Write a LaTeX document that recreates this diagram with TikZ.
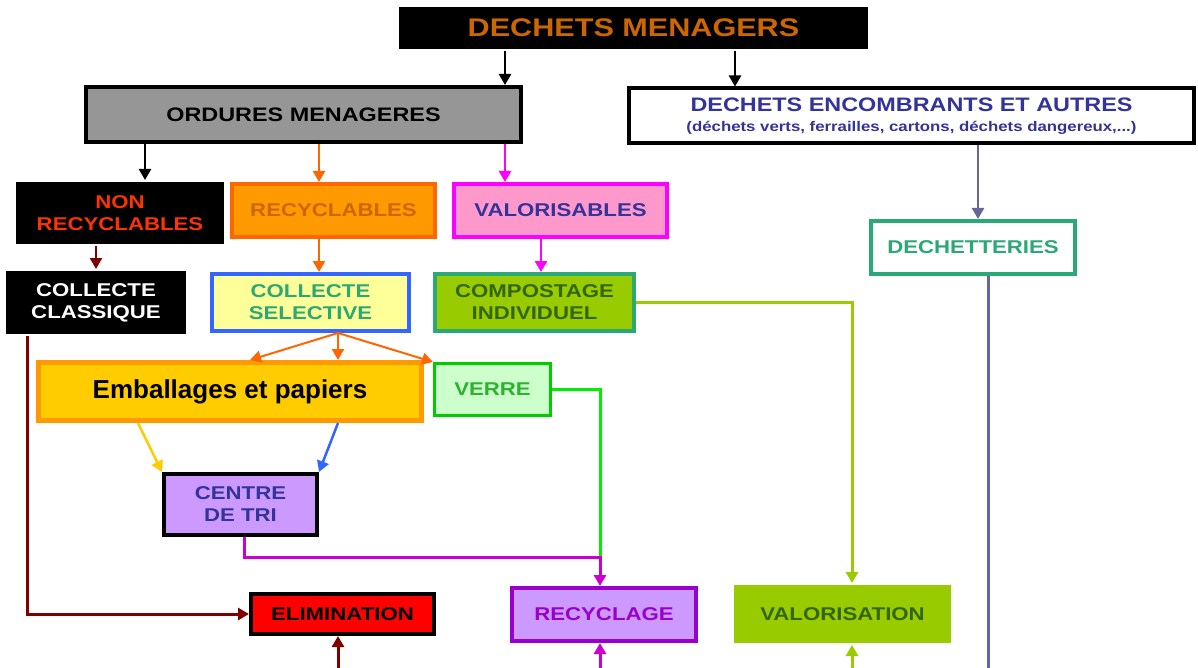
\documentclass[tikz,border=0pt]{standalone}
\usepackage{fontspec}
\setmainfont{Liberation Sans}[FakeStretch=1.2]
\newfontfamily\plainfont{Liberation Sans}
\usetikzlibrary{arrows.meta}

\definecolor{titleorange}{HTML}{CC6600}
\definecolor{navy}{HTML}{333399}
\definecolor{redorange}{HTML}{FF3300}
\definecolor{darkred}{HTML}{800000}
\definecolor{lightorange}{HTML}{FF9900}
\definecolor{deeporange}{HTML}{FF6600}
\definecolor{fuchsia}{HTML}{FF00FF}
\definecolor{pink}{HTML}{FF99CC}
\definecolor{lightyellow}{HTML}{FFFF99}
\definecolor{blueline}{HTML}{3366FF}
\definecolor{teal}{HTML}{2AA876}
\definecolor{lime}{HTML}{99CC00}
\definecolor{darkgreen}{HTML}{336600}
\definecolor{gold}{HTML}{FFCC00}
\definecolor{palegreen}{HTML}{CCFFCC}
\definecolor{glassgreen}{HTML}{00CC00}
\definecolor{brightgreen}{HTML}{00EE00}
\definecolor{glasstext}{HTML}{2DB22D}
\definecolor{lilac}{HTML}{CC99FF}
\definecolor{purple}{HTML}{9900CC}
\definecolor{violet}{HTML}{CC00CC}
\definecolor{slate}{HTML}{666699}
\definecolor{greyfill}{HTML}{969696}

\begin{document}
\begin{tikzpicture}[x=1pt, y=-1pt,
    every node/.style={rectangle, inner sep=0pt, align=center,
                       font=\fontsize{18.5}{22}\selectfont\bfseries}]
	\useasboundingbox (0,0) rectangle (1198,668);

	\begin{scope}[line width=4pt]
		\node[fill=black, minimum width=469pt, minimum height=42pt, text=titleorange,
		      font=\fontsize{25.5}{30}\selectfont\bfseries] (dm) at (633.5,28) {\raisebox{-2pt}{DECHETS MENAGERS}};
		\node[draw=black, fill=greyfill, minimum width=435pt, minimum height=55pt,
		      font=\fontsize{19.5}{22}\selectfont\bfseries] (om) at (303.5,114.5) {ORDURES MENAGERES};
		\node[draw=black, fill=white, minimum width=565pt, minimum height=55pt, text=navy,
		      font=\fontsize{19.5}{22}\selectfont\bfseries] (de) at (911.5,116)
		      {DECHETS ENCOMBRANTS ET AUTRES\\[-2pt]{\fontsize{14}{16}\selectfont (déchets verts, ferrailles, cartons, déchets dangereux,...)}};
		\node[fill=black, minimum width=208pt, minimum height=62pt, text=redorange] (nr) at (120,213) {NON\\RECYCLABLES};
		\node[draw=deeporange, fill=lightorange, minimum width=203pt, minimum height=53pt, text=titleorange] (rc) at (333.5,210.5) {RECYCLABLES};
		\node[draw=fuchsia, fill=pink, minimum width=213pt, minimum height=53pt, text=navy] (vs) at (560.5,210.5) {VALORISABLES};
		\node[fill=black, minimum width=180pt, minimum height=63pt, text=white] (cc) at (96,302.5) {COLLECTE\\CLASSIQUE};
		\node[draw=blueline, fill=lightyellow, minimum width=197pt, minimum height=57pt, text=teal] (cs) at (310.5,302.5) {COLLECTE\\SELECTIVE};
		\node[draw=teal, fill=lime, minimum width=199pt, minimum height=57pt, text=darkgreen] (ci) at (534.5,302.5) {COMPOSTAGE\\INDIVIDUEL};
		\node[draw=teal, fill=white, minimum width=204pt, minimum height=53pt, text=teal] (dt) at (973,247.5) {DECHETTERIES};
		\node[draw=lightorange, fill=gold, line width=5pt, minimum width=383pt, minimum height=58pt,
		      font=\plainfont\fontsize{26}{30}\selectfont\bfseries] (ep) at (230,391.5) {Emballages et papiers};
		\node[draw=glassgreen, fill=palegreen, line width=3pt, minimum width=116pt, minimum height=52pt, text=glasstext] (vr) at (492.5,389.5) {VERRE};
		\node[draw=black, fill=lilac, minimum width=153pt, minimum height=61pt, text=navy] (ct) at (240.5,504.5) {CENTRE\\DE TRI};
		\node[draw=black, fill=red, minimum width=183pt, minimum height=40pt] (el) at (342.5,614) {ELIMINATION};
		\node[draw=purple, fill=lilac, minimum width=184pt, minimum height=53pt, text=purple] (ry) at (604,614.5) {RECYCLAGE};
		\node[fill=lime, minimum width=217pt, minimum height=58pt, text=darkgreen] (vn) at (842.5,614) {VALORISATION};
	\end{scope}

	\coordinate (dtend) at (988,668);
	\coordinate (elin) at (338,668);
	\coordinate (ryin) at (600,668);
	\coordinate (vnin) at (852,668);
	\coordinate (ryjoin) at (600,557);

	\begin{scope}[>={Triangle[length=11pt, width=12pt]}, line width=2.5pt]
		\draw[->, black] (505,0 |- dm.south) -- (505,0 |- om.north);
		\draw[->, black] (735,0 |- dm.south) -- (735,0 |- de.north);
		\draw[->, black] (145,0 |- om.south) -- (145,0 |- nr.north);
		\draw[->, deeporange] (319,0 |- om.south) -- (319,0 |- rc.north);
		\draw[->, fuchsia] (505,0 |- om.south) -- (505,0 |- vs.north);
		\draw[->, darkred] (96,0 |- nr.south) -- (96,0 |- cc.north);
		\draw[->, deeporange] (319,0 |- rc.south) -- (319,0 |- cs.north);
		\draw[->, fuchsia] (541,0 |- vs.south) -- (541,0 |- ci.north);
		\draw[->, slate] (978,0 |- de.south) -- (978,0 |- dt.north);
		\draw[slate, line width=3pt] (988,0 |- dt.south) -- (dtend);

		\draw[->, deeporange, line width=2pt] (338,0 |- cs.south) -- (250,0 |- ep.north);
		\draw[->, deeporange, line width=2pt] (338,0 |- cs.south) -- (338,0 |- ep.north);
		\draw[->, deeporange, line width=2pt] (338,0 |- cs.south) -- (vr.north west);
		\draw[->, gold] (138,0 |- ep.south) -- (ct.north west);
		\draw[->, blueline] (338,0 |- ep.south) -- (ct.north east);

		\draw[brightgreen, line width=3pt] (vr.east) -- (600,0 |- vr.east) -- (ryjoin);
		\draw[->, violet, line width=3pt] (244,0 |- ct.south) -- (244,557) -- (ryjoin) -- (600,0 |- ry.north);
		\draw[->, lime, line width=3pt] (ci.east) -- (852,0 |- ci.east) -- (852,0 |- vn.north);
		\draw[->, darkred, line width=3pt] (27,0 |- cc.south) -- (27,0 |- el.west) -- (el.west);

		\draw[->, darkred, line width=3pt] (elin) -- (338,0 |- el.south);
		\draw[->, violet, line width=3pt] (ryin) -- (600,0 |- ry.south);
		\draw[->, lime, line width=3pt] (vnin) -- (852,0 |- vn.south);
	\end{scope}
\end{tikzpicture}
\end{document}
